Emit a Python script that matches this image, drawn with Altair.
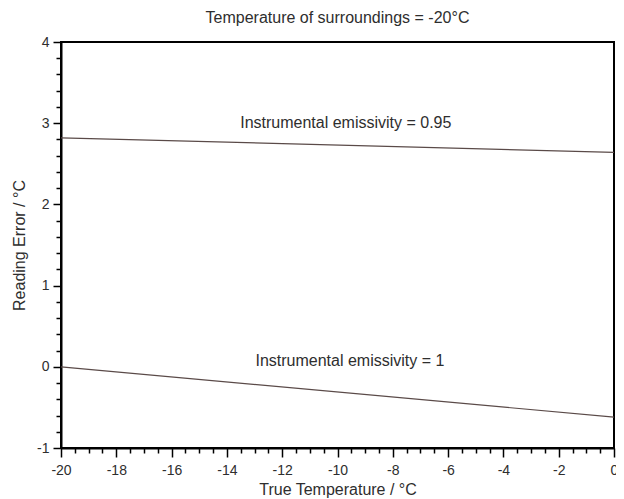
import altair as alt
import pandas as pd

temps = [-20, 0]
err_095 = [2.82, 2.64]
err_1 = [0.0, -0.62]

labels_text = ["Instrumental emissivity = 0.95", "Instrumental emissivity = 1"]
labels_x = [-9.7, -9.55]
labels_y = [3.0, 0.07]

x_ticks = [round(-20 + 0.5 * i, 1) for i in range(41)]
y_ticks = [round(-1 + 0.2 * i, 1) for i in range(26)]

rows = []
for t, a, b in zip(temps, err_095, err_1):
    rows.append({"T": t, "E": a, "s": "0.95"})
    rows.append({"T": t, "E": b, "s": "1"})
df = pd.DataFrame(rows)
lab = pd.DataFrame({"T": labels_x, "E": labels_y, "txt": labels_text})

FONT = "Liberation Sans"
TXT = "#2e2e2e"
is_major_x = "abs(datum.value/2 - round(datum.value/2)) < 1e-6"
is_major_y = "abs(datum.value - round(datum.value)) < 1e-6"

common = dict(grid=False, domainColor="black", domainWidth=2, tickColor="black",
              tickWidth=1.5, labelFontSize=14, titleFontSize=16, labelColor=TXT,
              titleColor=TXT, labelFont=FONT, titleFont=FONT, titleFontWeight="normal",
              labelOverlap=False, labelFlush=False, tickCount=200)

xenc = alt.X("T:Q", scale=alt.Scale(domain=[-20, 0], nice=False),
             axis=alt.Axis(values=x_ticks, title="True Temperature / °C",
                           labelExpr=f"{is_major_x} ? toString(datum.value) : ''",
                           tickSize={"condition": {"test": is_major_x, "value": 9}, "value": 5},
                           labelPadding=6, titlePadding=4, **common))
yenc = alt.Y("E:Q", scale=alt.Scale(domain=[-1, 4], nice=False),
             axis=alt.Axis(values=y_ticks, title="Reading Error / °C",
                           labelExpr=f"{is_major_y} ? toString(datum.value) : ''",
                           tickSize={"condition": {"test": is_major_y, "value": 8}, "value": 5},
                           labelPadding=4, titlePadding=9, **common))

lines = alt.Chart(df).mark_line(color="#5a4a48", strokeWidth=1.2).encode(
    x=xenc, y=yenc, detail="s:N")
texts = alt.Chart(lab).mark_text(font=FONT, fontSize=16, color=TXT).encode(
    x="T:Q", y="E:Q", text="txt:N")

chart = alt.layer(lines, texts).properties(
    width=553, height=406,
    background="white",
    title=alt.TitleParams("Temperature of surroundings = -20°C", font=FONT, fontSize=16,
                          fontWeight="normal", color=TXT, anchor="middle", offset=9),
    autosize=alt.AutoSizeParams(type="none"),
    padding={"left": 53, "top": 34, "right": 2, "bottom": 50},
).configure_view(stroke="black", strokeWidth=2)

chart.save("out.html", embed_options={"renderer": "svg", "actions": False})
